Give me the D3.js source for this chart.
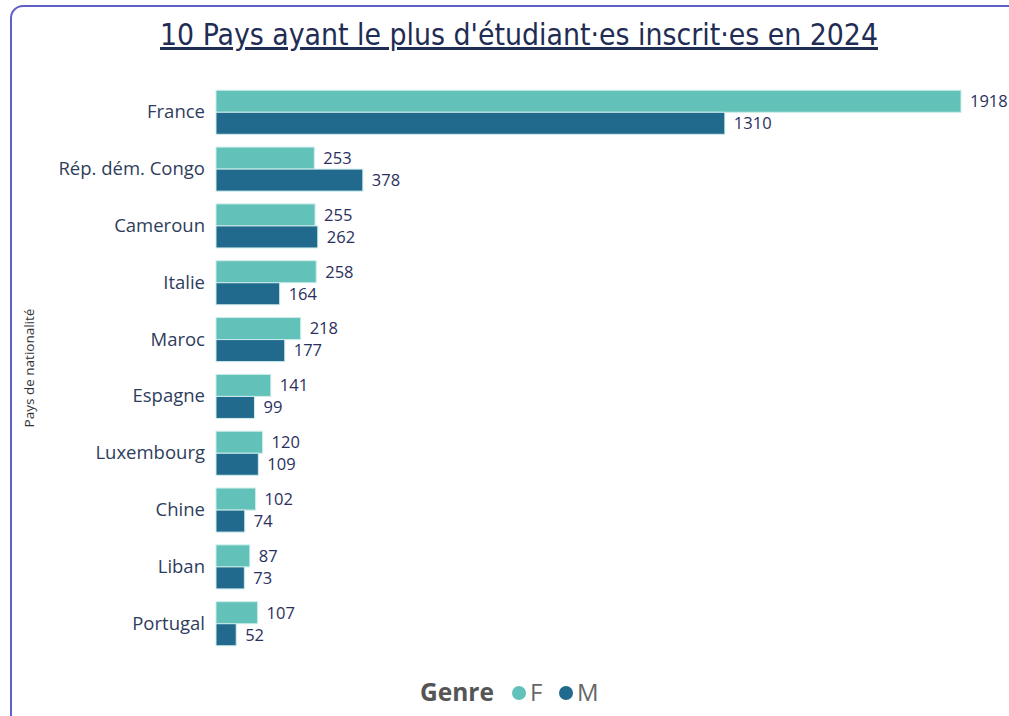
<!DOCTYPE html>
<html><head><meta charset="utf-8">
<script src="https://cdn.jsdelivr.net/npm/d3@7"></script>
<style>body{margin:0;background:#fff;} svg{display:block;font-family:"Segoe UI","Open Sans","Noto Sans",sans-serif;}</style>
</head><body>
<svg id="c" width="1009" height="716"></svg>
<script>
const categories = ["France","Rép. dém. Congo","Cameroun","Italie","Maroc","Espagne","Luxembourg","Chine","Liban","Portugal"];
const valuesF = [1918,253,255,258,218,141,120,102,87,107];
const valuesM = [1310,378,262,164,177,99,109,74,73,52];
const seriesNames = ["F","M"];
const colors = ["#62C1B9","#226A8D"];

const svg = d3.select("#c");
svg.append("rect").attr("x",11).attr("y",6).attr("width",1040).attr("height",760)
  .attr("rx",12).attr("fill","#fff").attr("stroke","#5E62C8").attr("stroke-width",2);

svg.append("text").attr("x",519).attr("y",45).attr("text-anchor","middle")
  .attr("font-family","'Liberation Sans Narrow','DejaVu Sans Condensed','Open Sans',sans-serif")
  .attr("font-size",30).attr("fill","#1F2D55").attr("text-decoration","underline")
  .attr("textLength",718).attr("lengthAdjust","spacingAndGlyphs")
  .text("10 Pays ayant le plus d'étudiant·es inscrit·es en 2024");

const x0 = 216;
const x = d3.scaleLinear().domain([0,1918]).range([x0,961]);
const y = d3.scaleBand().domain(categories).range([84,652]).paddingInner(0.225).paddingOuter(0.11);
const ySub = d3.scaleBand().domain(seriesNames).range([0,y.bandwidth()]);

const data = categories.map((c,i)=>({cat:c, vals:[valuesF[i],valuesM[i]]}));

const grp = svg.append("g").selectAll("g.grp").data(data).join("g").attr("transform",d=>`translate(0,${y(d.cat)})`);
grp.selectAll("rect").data(d=>d.vals.map((v,j)=>({v,s:seriesNames[j],j})))
  .join("rect")
  .attr("x",x(0)).attr("y",d=>ySub(d.s)).attr("width",d=>x(d.v)-x(0)).attr("height",ySub.bandwidth())
  .attr("fill",d=>colors[d.j]).attr("stroke","#CDEDEA").attr("stroke-width",1);
grp.selectAll("text.v").data(d=>d.vals.map((v,j)=>({v,s:seriesNames[j],j})))
  .join("text").attr("class","v")
  .attr("x",d=>x(d.v)+9).attr("y",d=>ySub(d.s)+ySub.bandwidth()/2).attr("dy","0.35em")
  .attr("font-size",16.5).attr("fill","#2B2F5E").text(d=>d.v);

const yAxis = d3.axisLeft(y).tickSize(0).tickPadding(10);
const ax = svg.append("g").attr("transform",`translate(${x0-1},0)`).call(yAxis);
ax.select(".domain").remove();
ax.selectAll("text").attr("font-size",18.5).attr("fill","#2E3D5C").attr("font-family","'Segoe UI','Open Sans',sans-serif");

svg.append("text").attr("transform","translate(34,368) rotate(-90)").attr("text-anchor","middle")
  .attr("font-size",13.5).attr("fill","#333").text("Pays de nationalité");

const lg = svg.append("g");
lg.append("text").attr("x",420).attr("y",701).attr("font-size",24.5).attr("font-weight","bold").attr("fill","#555").text("Genre");
const lx = [519,566];
seriesNames.forEach((s,i)=>{
  lg.append("circle").attr("cx",lx[i]).attr("cy",693).attr("r",7).attr("fill",colors[i]);
  lg.append("text").attr("x",lx[i]+11).attr("y",701).attr("font-size",24).attr("fill","#666").text(s);
});
</script>
</body></html>
